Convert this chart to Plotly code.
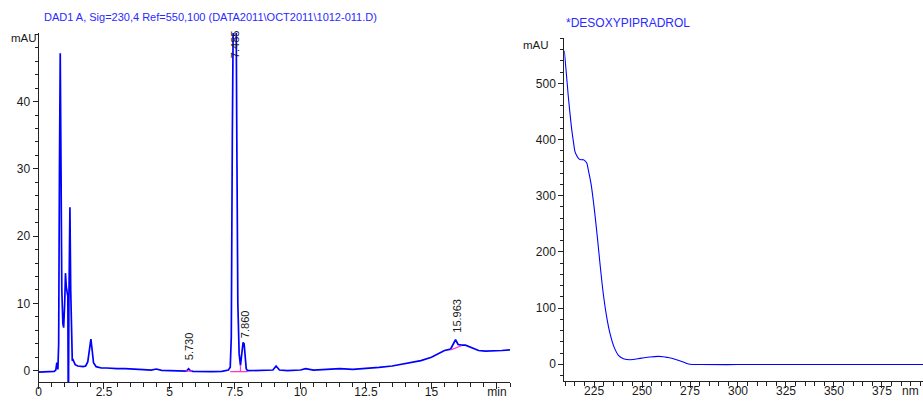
import plotly.graph_objects as go

W, H = 923, 401

# ---------------- Chromatogram (left) ----------------
chrom_t = [0.0, 0.2, 0.4, 0.6, 0.66, 0.70, 0.74, 0.77, 0.80, 0.83, 0.86, 0.89, 0.93, 0.96,
           1.00, 1.03, 1.06, 1.09, 1.12, 1.135, 1.145, 1.16, 1.18, 1.20, 1.23, 1.26, 1.29,
           1.32, 1.36, 1.40, 1.50, 1.60, 1.70, 1.80, 1.88, 1.94, 2.00, 2.05, 2.10, 2.20,
           2.40, 2.60, 2.80, 3.0, 3.3, 3.6, 4.0, 4.3, 4.5, 4.7, 5.0, 5.3, 5.5, 5.65, 5.73,
           5.80, 5.90, 6.2, 6.6, 7.0, 7.25, 7.32, 7.36, 7.40, 7.44, 7.485, 7.53, 7.57, 7.61,
           7.66, 7.71, 7.76, 7.81, 7.85, 7.89, 7.93, 7.98, 8.1, 8.4, 8.7, 8.95, 9.07, 9.2,
           9.5, 9.8, 10.0, 10.2, 10.5, 11.0, 11.5, 12.0, 12.5, 13.0, 13.5, 13.8, 14.0, 14.3,
           14.6, 15.0, 15.3, 15.5, 15.73, 15.82, 15.92, 16.02, 16.15, 16.3, 16.55, 16.8,
           17.06, 17.38, 17.69, 18.0]
chrom_mau = [-0.2, -0.2, -0.1, -0.1, 0.1, 1.2, 0.2, 4.0, 30.0, 47.2, 30.0, 12.0, 7.0, 6.4,
             10.0, 14.5, 12.5, 11.5, 11.0, -4.0, -4.0, 10.0, 20.0, 24.3, 12.0, 3.0, 1.5,
             1.6, 1.2, 0.9, 0.7, 0.6, 0.6, 0.7, 1.3, 3.0, 4.7, 3.0, 1.2, 0.6,
             0.4, 0.4, 0.3, 0.3, 0.3, 0.2, 0.15, 0.1, 0.25, 0.05, 0.0, -0.05, -0.1, -0.05, 0.3,
             0.0, -0.1, -0.15, -0.15, -0.1, 0.1, 0.5, 5.0, 35.0, 65.0, 78.0, 65.0, 35.0, 10.0,
             2.5, 0.8, 2.5, 4.2, 4.0, 1.8, 0.3, 0.0, 0.0, 0.0, 0.0, 0.1, 0.7, 0.1,
             0.0, 0.05, 0.1, 0.3, 0.1, 0.2, 0.3, 0.2, 0.3, 0.5, 0.7, 0.9, 1.0, 1.2,
             1.5, 2.0, 2.6, 3.0, 3.2, 3.9, 4.6, 3.9, 3.8, 3.8, 3.4, 3.0,
             2.9, 2.9, 3.0, 3.1]

# integration baselines (start t, start y, end t, end y)
base_t0 = [5.62, 7.32, 7.71, 15.73]
base_y0 = [-0.05, -0.15, -0.15, 3.1]
base_t1 = [5.85, 7.98, 7.71, 16.15]
base_y1 = [-0.05, -0.15, 0.8, 3.7]

peak_rt = [5.730, 7.485, 7.860, 15.963]
peak_labels = ["5.730", "7.485", "7.860", "15.963"]
peak_label_y = [1.2, 46.1, 4.6, 5.3]

chrom_tickvals = [0, 2.5, 5, 7.5, 10, 12.5, 15, 17.5]
chrom_ticktext = ["0", "2.5", "5", "7.5", "10", "12.5", "15", "min"]
chrom_ytick = [0, 10, 20, 30, 40]

# ---------------- UV spectrum (right) ----------------
spec_nm = [209.5, 210.5, 211.6, 212.5, 213.4, 214.3, 215.1, 216.2, 217.3, 218.4, 219.4,
           220.3, 221.2, 222.0, 223.4, 225.0, 226.7, 228.1, 229.8, 231.6, 233.3, 235.4,
           237.7, 240.3, 243.8, 249.8, 254.2, 258.5, 261.0, 263.5, 266.3, 270.0, 273.0,
           275.0, 280.0, 300.0, 325.0, 350.0, 375.0, 396.4]
spec_mau = [558, 520, 476, 445, 417, 395, 378, 370, 365, 364, 364,
            362, 358, 346, 322, 280, 227, 179, 126, 84, 55, 31,
            16, 10, 8, 11, 13, 14, 13.5, 12, 10, 6, 2,
            0, -0.5, -0.5, -0.5, -0.5, -0.5, -0.5]
spec_tickvals = [225, 250, 275, 300, 325, 350, 375]
spec_ytick = [0, 100, 200, 300, 400, 500]

BLUE = "#0000ff"
TXT = "#1a1a1a"
FONT = "Liberation Sans, Arial, sans-serif"

fig = go.Figure()

fig.add_trace(go.Scatter(x=chrom_t, y=chrom_mau, mode="lines",
                         line=dict(color=BLUE, width=1.7), xaxis="x", yaxis="y",
                         hoverinfo="skip"))
for a, b, c, d in zip(base_t0, base_y0, base_t1, base_y1):
    fig.add_trace(go.Scatter(x=[a, c], y=[b, d], mode="lines",
                             line=dict(color="#ff33cc", width=1.2), xaxis="x", yaxis="y",
                             hoverinfo="skip"))

fig.add_trace(go.Scatter(x=spec_nm, y=spec_mau, mode="lines", line_shape="spline",
                         line=dict(color=BLUE, width=1.1), xaxis="x2", yaxis="y2",
                         hoverinfo="skip"))

axis_common = dict(showline=True, linecolor="#222", linewidth=1, showgrid=False,
                   zeroline=False, ticks="outside", tickcolor="#222", automargin=False,
                   tickfont=dict(family=FONT, size=12, color=TXT))

xl = (38.5 / W, 510 / W)
yl = ((H - 382) / H, (H - 33) / H)
xr = (564.3 / W, 1.0)
yr = ((H - 380.7) / H, (H - 38) / H)

fig.update_layout(
    template="none",
    width=W, height=H, margin=dict(l=0, r=0, t=0, b=0, pad=0),
    paper_bgcolor="white", plot_bgcolor="white", showlegend=False,
    xaxis=dict(domain=list(xl), range=[0, 18.0], tickvals=chrom_tickvals,
               ticktext=chrom_ticktext, ticklen=6, ticklabelstandoff=-7,
               minor=dict(dtick=0.5, tick0=0, ticklen=4, ticks="outside", tickcolor="#222"),
               anchor="y", **axis_common),
    yaxis=dict(domain=list(yl), range=[-1.68, 50.2], tickvals=chrom_ytick, ticklen=5,
               minor=dict(dtick=2, tick0=0, ticklen=3, ticks="outside", tickcolor="#222"),
               anchor="x", **axis_common),
    xaxis2=dict(domain=list(xr), range=[209.5, 396.4], tickvals=spec_tickvals, ticklen=6,
                ticklabelstandoff=-7,
                minor=dict(dtick=5, tick0=0, ticklen=4, ticks="outside", tickcolor="#222"),
                anchor="y2", **axis_common),
    yaxis2=dict(domain=list(yr), range=[-29.2, 580.6], tickvals=spec_ytick, ticklen=5,
                minor=dict(dtick=20, tick0=0, ticklen=3, ticks="outside", tickcolor="#222"),
                anchor="x2", **axis_common),
)

annots = []
for rt, lab, ly in zip(peak_rt, peak_labels, peak_label_y):
    annots.append(dict(x=rt, y=ly, xref="x", yref="y", text=lab, showarrow=False,
                       textangle=-90, xanchor="center", yanchor="bottom",
                       font=dict(family=FONT, size=11, color=TXT)))
annots += [
    dict(x=42 / W, y=(H - 17) / H, xref="paper", yref="paper", xanchor="left",
         yanchor="middle", showarrow=False,
         text="DAD1 A, Sig=230,4 Ref=550,100 (DATA2011\\OCT2011\\1012-011.D)",
         font=dict(family=FONT, size=11, color="#2a2aff")),
    dict(x=564 / W, y=(H - 22.5) / H, xref="paper", yref="paper", xanchor="left",
         yanchor="middle", showarrow=False, text="*DESOXYPIPRADROL",
         font=dict(family=FONT, size=12, color="#2a2aff")),
    dict(x=9 / W, y=(H - 38) / H, xref="paper", yref="paper", xanchor="left",
         yanchor="middle", showarrow=False, text="mAU",
         font=dict(family=FONT, size=11.5, color=TXT)),
    dict(x=521 / W, y=(H - 45) / H, xref="paper", yref="paper", xanchor="left",
         yanchor="middle", showarrow=False, text="mAU",
         font=dict(family=FONT, size=11.5, color=TXT)),
    dict(x=921 / W, y=(H - 391) / H, xref="paper", yref="paper", xanchor="right",
         yanchor="middle", showarrow=False, text="nm",
         font=dict(family=FONT, size=12, color=TXT)),
]
fig.update_layout(annotations=annots)

fig.write_html("out.html", config={"responsive": False, "displayModeBar": False},
               post_script="document.body.style.margin='0';document.body.style.overflow='hidden';")
